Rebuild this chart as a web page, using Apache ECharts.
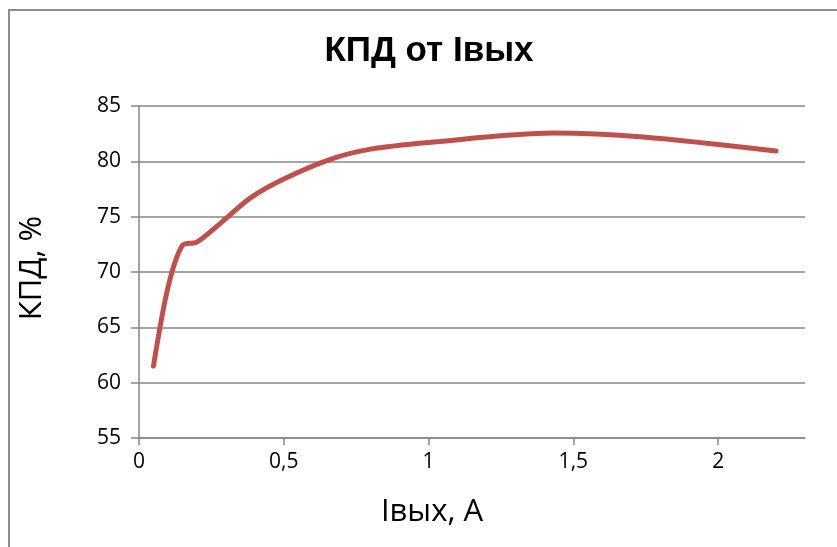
<!DOCTYPE html>
<html><head><meta charset="utf-8">
<script src="https://cdn.jsdelivr.net/npm/echarts@6/dist/echarts.min.js"></script>
<style>html,body{margin:0;padding:0;background:#fff}#c{width:837px;height:547px}</style>
</head><body><div id="c"></div>
<script>
const titleText = 'КПД от Iвых';
const xName = 'Iвых, А';
const yName = 'КПД, %';
const currentA = [0.05, 0.1, 0.15, 0.2, 0.29, 0.385, 0.5, 0.663, 0.8, 1.0, 1.43, 1.74, 2.2];
const efficiency = [61.5, 68.6, 72.4, 72.7, 74.6, 76.7, 78.4, 80.2, 81.1, 81.7, 82.55, 82.2, 80.93];

const chart = echarts.init(document.getElementById('c'));
const fmt = v => String(v).replace('.', ',');
chart.setOption({
  animation: false,
  backgroundColor: '#fff',
  grid: {left: 139, right: 32, top: 106, bottom: 109},
  xAxis: {
    type: 'value', min: 0, max: 2.3, interval: 0.5,
    axisLine: {show: true, lineStyle: {color: '#868686', width: 1.5}},
    axisTick: {show: true, length: 7, lineStyle: {color: '#868686', width: 1.5}},
    splitLine: {show: false},
    axisLabel: {showMaxLabel: false, formatter: fmt, margin: 14, color: '#000', fontFamily: 'Open Sans', fontSize: 21}
  },
  yAxis: {
    type: 'value', min: 55, max: 85, interval: 5,
    axisLine: {show: true, lineStyle: {color: '#868686', width: 1.5}},
    axisTick: {show: true, length: 8, lineStyle: {color: '#868686', width: 1.5}},
    splitLine: {show: true, lineStyle: {color: '#868686', width: 1.5}},
    axisLabel: {margin: 18, color: '#000', fontFamily: 'Open Sans', fontSize: 21}
  },
  graphic: [
    {type: 'rect', shape: {x: 9, y: 10, width: 900, height: 600}, style: {fill: 'none', stroke: '#8c8c8c', lineWidth: 2}},
    {type: 'text', x: 429, y: 51, style: {text: titleText, fontFamily: 'Liberation Sans', fontWeight: 'bold', fontSize: 35, fill: '#000', textAlign: 'center', textVerticalAlign: 'middle'}},
    {type: 'text', x: 432, y: 512, style: {text: xName, fontFamily: 'Open Sans', fontSize: 31, fill: '#000', textAlign: 'center', textVerticalAlign: 'middle'}},
    {type: 'text', x: 32, y: 268, rotation: Math.PI / 2, style: {text: yName, fontFamily: 'Open Sans', fontSize: 31, fill: '#000', textAlign: 'center', textVerticalAlign: 'middle'}}
  ],
  series: [{
    type: 'line', smooth: 0.3, showSymbol: false,
    data: currentA.map((x, i) => [x, efficiency[i]]),
    lineStyle: {color: '#C0504D', width: 5, cap: 'round'}
  }]
});
</script></body></html>
